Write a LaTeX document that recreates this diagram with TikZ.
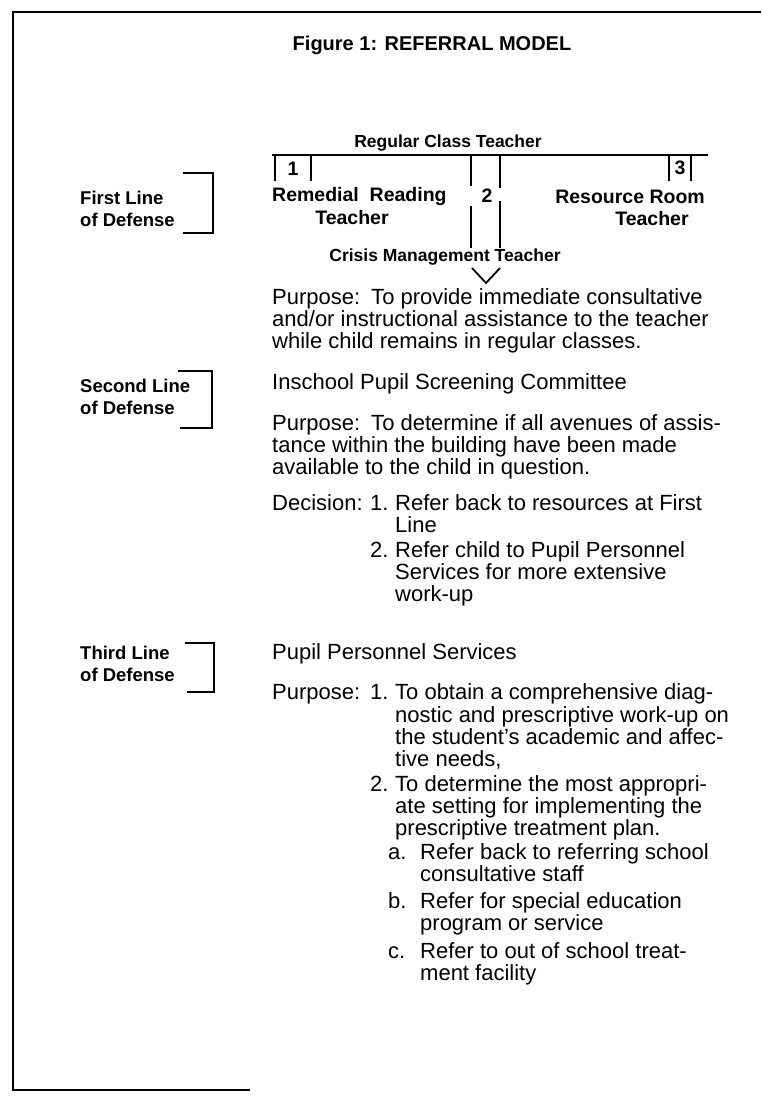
\documentclass[tikz,border=0pt]{standalone}
\usepackage{fontspec}
\setmainfont{Liberation Sans}
\usetikzlibrary{positioning}

\begin{document}
\begin{tikzpicture}[x=1pt, y=-1pt,
    body/.style={anchor=base west, inner sep=0pt, font=\fontsize{22}{22}\selectfont},
    head/.style={inner sep=0pt, font=\bfseries\fontsize{19.5}{22}\selectfont},
    headsmall/.style={head, font=\bfseries\fontsize{17.5}{22}\selectfont},
    defense/.style={anchor=base west, inner sep=0pt, font=\bfseries\fontsize{18.5}{22}\selectfont},
    rule/.style={line width=1.8pt},
]
\useasboundingbox (0,0) rectangle (761,1101);

% page frame
\draw[line width=2.5pt] (250,1090) -- (13,1090) -- (13,12) -- (761,12);

% Title
\node[head, font=\bfseries\fontsize{20}{22}\selectfont] (title) at (432,45) {Figure 1: REFERRAL MODEL};

% --- First line resources ---
\node[headsmall] (rct) at (448,143) {Regular Class Teacher};
\coordinate (barL) at (272,155);
\coordinate (barR) at (708,155);
\draw[rule] (barL) -- (barR);

% box 1
\node[head] (n1) at (293,169) {1};
\draw[rule] (275,155) -- (275,181);
\draw[rule] (311,155) -- (311,181);
\node[head, anchor=west] (rrt) at (272,196) {Remedial\ \ Reading};
\node[head] (rrt2) at (352,218) {Teacher};

% box 3
\node[head] (n3) at (680,168) {3};
\draw[rule] (669,155) -- (669,181);
\draw[rule] (691,155) -- (691,181);
\node[head, anchor=east] (rst) at (705,197) {Resource Room};
\node[head] (rst2) at (652,219) {Teacher};

% channel 2
\node[head] (n2) at (487,196) {2};
\draw[rule] (471,155) -- (471,186);
\draw[rule] (500,155) -- (500,188);
\draw[rule] (471,206) -- (471,248);
\draw[rule] (500,201) -- (500,248);
\node[headsmall] (cmt) at (445,257) {Crisis Management Teacher};
\draw[rule] (472,268) -- (486,283) -- (500,268);

% --- Lines of defense ---
\node[defense] (d1a) at (80,204) {First Line};
\node[defense] (d1b) at (80,226) {of Defense};
\draw[rule] (183,173) -- (213,173) -- (213,233) -- (183,233);

\node[defense] (d2a) at (80,392) {Second Line};
\node[defense] (d2b) at (80,414) {of Defense};
\draw[rule] (178,371) -- (212,371) -- (212,428) -- (180,428);

\node[defense] (d3a) at (80,659) {Third Line};
\node[defense] (d3b) at (80,681) {of Defense};
\draw[rule] (185,643) -- (214,643) -- (214,692) -- (187,692);

% --- Text ---
\foreach \x/\y/\t [count=\i] in {
    272/304/{Purpose:\hspace{0.5em}To provide immediate consultative},
    272/326/{and/or instructional assistance to the teacher},
    272/348/{while child remains in regular classes.},
    272/389/{Inschool Pupil Screening Committee},
    272/430/{Purpose:\hspace{0.5em}To determine if all avenues of assis-},
    272/452/{tance within the building have been made},
    272/474/{available to the child in question.},
    272/510/{Decision:},
    370/510/{1.},
    395/510/{Refer back to resources at First},
    395/532/{Line},
    370/557/{2.},
    395/557/{Refer child to Pupil Personnel},
    395/579/{Services for more extensive},
    395/601/{work-up},
    272/659/{Pupil Personnel Services},
    272/699/{Purpose:},
    370/699/{1.},
    395/699/{To obtain a comprehensive diag-},
    395/722/{nostic and prescriptive work-up on},
    395/744/{the student's academic and affec-},
    395/766/{tive needs,},
    370/791/{2.},
    395/791/{To determine the most appropri-},
    395/813/{ate setting for implementing the},
    395/835/{prescriptive treatment plan.},
    388/859/{a.},
    420/859/{Refer back to referring school},
    420/881/{consultative staff},
    388/908/{b.},
    420/908/{Refer for special education},
    420/930/{program or service},
    388/958/{c.},
    420/958/{Refer to out of school treat-},
    420/980/{ment facility}}
    \node[body] (txt\i) at (\x,\y) {\t};
\end{tikzpicture}
\end{document}
